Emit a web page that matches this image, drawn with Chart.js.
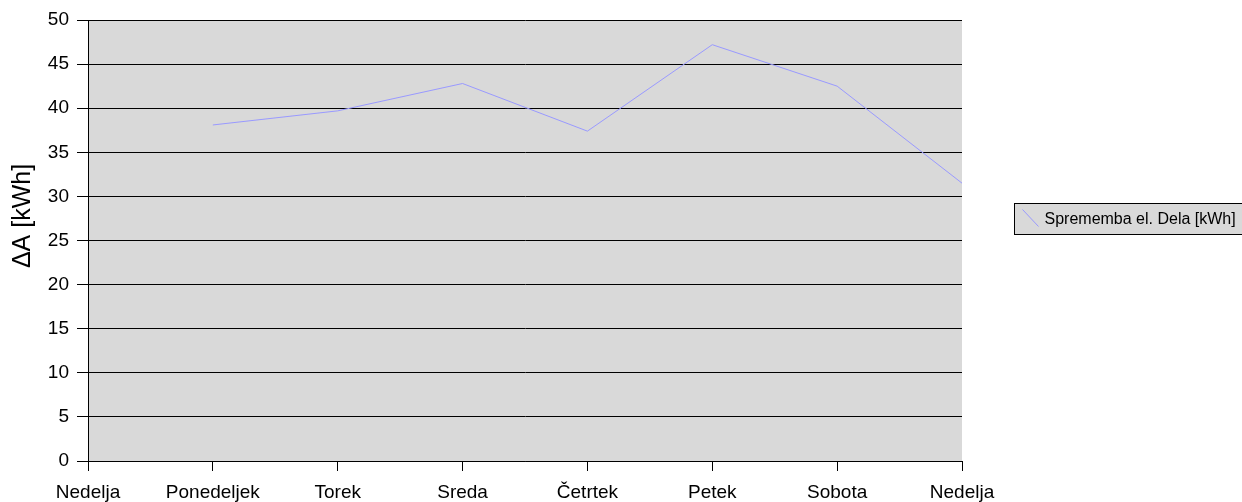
<!DOCTYPE html>
<html>
<head>
<meta charset="utf-8">
<script src="https://cdn.jsdelivr.net/npm/chart.js@4/dist/chart.umd.min.js"></script>
<style>
  html, body { margin: 0; padding: 0; background: #ffffff; }
  #wrap { width: 1242px; height: 502px; position: relative; }
</style>
</head>
<body>
<div id="wrap"><canvas id="c" width="1242" height="502"></canvas></div>
<script>
// Weekly change of consumed electrical energy
const days = ['Nedelja', 'Ponedeljek', 'Torek', 'Sreda', 'Četrtek', 'Petek', 'Sobota', 'Nedelja'];
const energyChange = [null, 38.1, 39.7, 42.8, 37.4, 47.2, 42.5, 31.5];
const yTickValues = [0, 5, 10, 15, 20, 25, 30, 35, 40, 45, 50];
const seriesLabel = 'Sprememba el. Dela [kWh]';
const yAxisTitle = 'ΔA [kWh]';

const FONT = '"Liberation Sans", Arial, sans-serif';
const PLOT_BG = '#d9d9d9';
const LINE_COLOR = '#9999ff';

// Grey plot area behind the grid
const plotBackground = {
  id: 'plotBackground',
  beforeDraw(chart) {
    const { ctx, chartArea: a } = chart;
    ctx.save();
    ctx.fillStyle = PLOT_BG;
    ctx.fillRect(a.left, a.top, a.right - a.left, a.bottom - a.top);
    ctx.restore();
  }
};

// Rotated value-axis title, sitting a little above the middle of the plot
const axisTitle = {
  id: 'axisTitle',
  afterDraw(chart) {
    const { ctx } = chart;
    ctx.save();
    ctx.translate(23, 216);
    ctx.rotate(-Math.PI / 2);
    ctx.fillStyle = '#000000';
    ctx.font = '25px ' + FONT;
    ctx.textAlign = 'center';
    ctx.textBaseline = 'middle';
    ctx.fillText(yAxisTitle, 0, 0);
    ctx.restore();
  }
};

// Boxed legend on the right with a diagonal line sample
const boxedLegend = {
  id: 'boxedLegend',
  afterDraw(chart) {
    const { ctx } = chart;
    const ds = chart.data.datasets[0];
    const x = 1014.5, y = 203.5, w = 240, h = 31;
    ctx.save();
    ctx.fillStyle = PLOT_BG;
    ctx.fillRect(x, y, w, h);
    ctx.strokeStyle = '#000000';
    ctx.lineWidth = 1;
    ctx.strokeRect(x, y, w, h);
    ctx.strokeStyle = ds.borderColor;
    ctx.beginPath();
    ctx.moveTo(x + 8, y + 6);
    ctx.lineTo(x + 24, y + 23);
    ctx.stroke();
    ctx.fillStyle = '#000000';
    ctx.font = '16px ' + FONT;
    ctx.textBaseline = 'middle';
    ctx.textAlign = 'left';
    ctx.fillText(ds.label, x + 30, y + h / 2 + 1);
    ctx.restore();
  }
};

new Chart(document.getElementById('c'), {
  type: 'line',
  data: {
    labels: days,
    datasets: [{
      label: seriesLabel,
      data: energyChange,
      borderColor: LINE_COLOR,
      backgroundColor: LINE_COLOR,
      borderWidth: 1,
      pointRadius: 0,
      pointHoverRadius: 0,
      tension: 0,
      spanGaps: false
    }]
  },
  options: {
    responsive: false,
    animation: false,
    devicePixelRatio: 1,
    layout: { padding: { top: 20, right: 280, left: 0, bottom: 0 } },
    plugins: {
      legend: { display: false },
      tooltip: { enabled: false }
    },
    scales: {
      x: {
        type: 'category',
        offset: false,
        grid: { display: true, drawOnChartArea: false, color: '#000000', tickLength: 10, lineWidth: 1 },
        border: { display: true, color: '#000000', width: 1 },
        ticks: {
          color: '#000000',
          font: { family: FONT, size: 19 },
          padding: 10,
          maxRotation: 0,
          autoSkip: false
        },
        afterFit(scale) { scale.height = 41; }
      },
      y: {
        min: 0,
        max: 50,
        afterBuildTicks(scale) { scale.ticks = yTickValues.map(v => ({ value: v })); },
        grid: { color: '#000000', tickLength: 11, lineWidth: 1 },
        border: { display: true, color: '#000000', width: 1 },
        ticks: {
          color: '#000000',
          font: { family: FONT, size: 19 },
          padding: 8
        },
        afterFit(scale) { scale.width = 88; }
      }
    }
  },
  plugins: [plotBackground, axisTitle, boxedLegend]
});
</script>
</body>
</html>
